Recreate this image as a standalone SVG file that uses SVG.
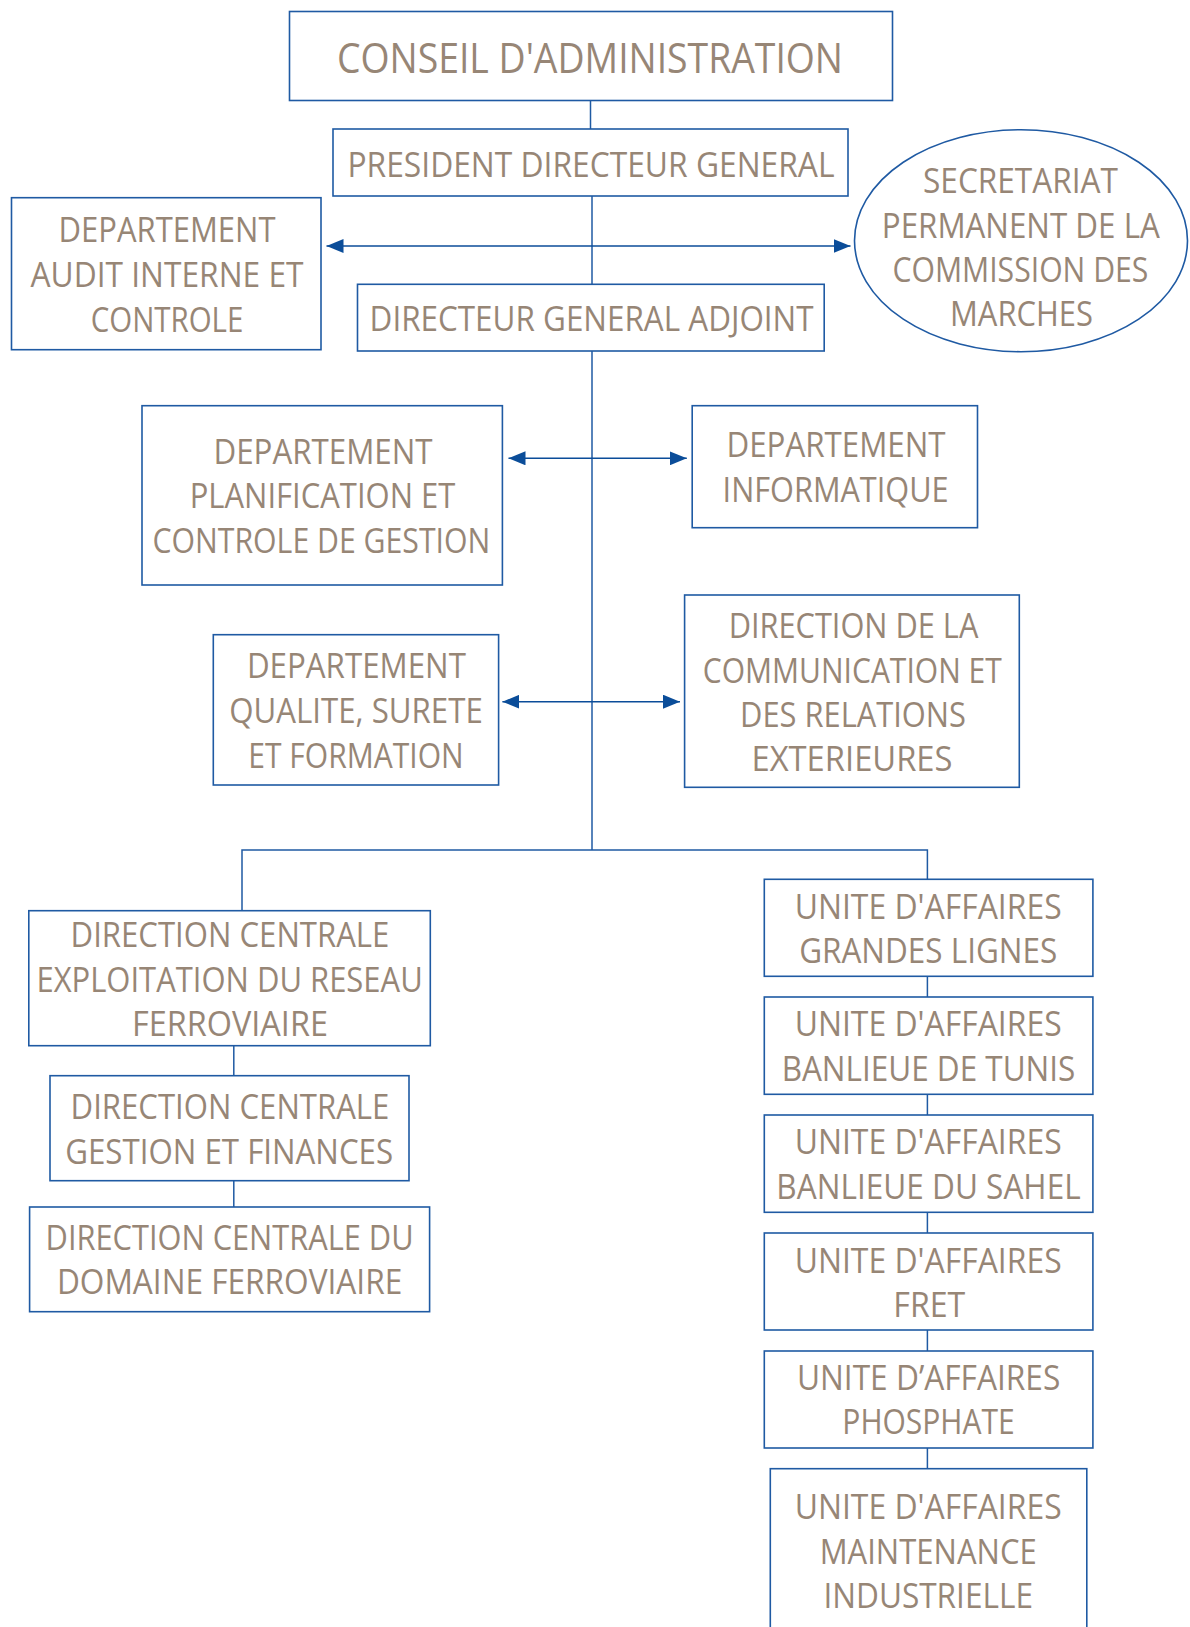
<svg xmlns="http://www.w3.org/2000/svg" width="1190" height="1627" viewBox="0 0 1190 1627">
<defs>
<style>
.box{fill:#ffffff;stroke:#1f5aa3;stroke-width:1.6}
.t{font-family:"Open Sans","Liberation Sans",sans-serif;font-size:34px;font-weight:500;fill:#978676;text-anchor:middle}
.big{font-size:42px}
.ln{stroke:#1f5aa3;stroke-width:1.5;fill:none}
.ar{stroke:#0b4d99;stroke-width:1.6;fill:none;marker-start:url(#ah);marker-end:url(#ah)}
</style>
<marker id="ah" markerUnits="userSpaceOnUse" markerWidth="18" markerHeight="14" viewBox="0 0 18 14" refX="17" refY="7" orient="auto-start-reverse">
<path d="M0,0 L17,7 L0,14 Z" fill="#0b4d99"/>
</marker>
</defs>
<rect width="1190" height="1627" fill="#ffffff"/>
<g id="connectors">
<line class="ln" x1="590.5" y1="100.6" x2="590.5" y2="129"/>
<line class="ln" x1="592" y1="196" x2="592" y2="284.3"/>
<line class="ar" x1="326.5" y1="246" x2="850.5" y2="246"/>
<line class="ln" x1="592" y1="351" x2="592" y2="850"/>
<line class="ar" x1="508.5" y1="458.3" x2="686.8" y2="458.3"/>
<line class="ar" x1="502.4" y1="701.7" x2="680" y2="701.7"/>
<polyline class="ln" points="242,910.7 242,850 927.4,850 927.4,879.3"/>
<line class="ln" x1="233.8" y1="1045.7" x2="233.8" y2="1075.7"/>
<line class="ln" x1="233.8" y1="1180.7" x2="233.8" y2="1207"/>
<line class="ln" x1="927.4" y1="976.3" x2="927.4" y2="997"/>
<line class="ln" x1="927.4" y1="1094.3" x2="927.4" y2="1115"/>
<line class="ln" x1="927.4" y1="1212.3" x2="927.4" y2="1233"/>
<line class="ln" x1="927.4" y1="1330" x2="927.4" y2="1351"/>
<line class="ln" x1="927.4" y1="1448" x2="927.4" y2="1468.7"/>
</g>
<g id="conseil">
<rect class="box" x="289.5" y="11.5" width="603" height="89"/>
<text class="t big" x="590" y="72.7" textLength="506" lengthAdjust="spacingAndGlyphs">CONSEIL D'ADMINISTRATION</text>
</g>
<g id="pdg">
<rect class="box" x="333" y="129" width="515" height="67"/>
<text class="t" x="591" y="176.7" textLength="487" lengthAdjust="spacingAndGlyphs">PRESIDENT DIRECTEUR GENERAL</text>
</g>
<g id="audit">
<rect class="box" x="11.5" y="197.7" width="309.5" height="152"/>
<text class="t" x="167" y="242.3" textLength="217" lengthAdjust="spacingAndGlyphs">DEPARTEMENT</text>
<text class="t" x="167" y="287.3" textLength="273" lengthAdjust="spacingAndGlyphs">AUDIT INTERNE ET</text>
<text class="t" x="167" y="332.3" textLength="152.6" lengthAdjust="spacingAndGlyphs">CONTROLE</text>
</g>
<g id="secretariat">
<ellipse class="box" cx="1021" cy="240.7" rx="166.5" ry="111"/>
<text class="t" x="1020.5" y="193.3" textLength="195" lengthAdjust="spacingAndGlyphs">SECRETARIAT</text>
<text class="t" x="1020.8" y="237.7" textLength="278" lengthAdjust="spacingAndGlyphs">PERMANENT DE LA</text>
<text class="t" x="1020.4" y="282.3" textLength="256" lengthAdjust="spacingAndGlyphs">COMMISSION DES</text>
<text class="t" x="1021.5" y="326" textLength="143" lengthAdjust="spacingAndGlyphs">MARCHES</text>
</g>
<g id="dga">
<rect class="box" x="357.5" y="284.3" width="466.7" height="66.7"/>
<text class="t" x="591.6" y="331.3" textLength="444" lengthAdjust="spacingAndGlyphs">DIRECTEUR GENERAL ADJOINT</text>
</g>
<g id="planification">
<rect class="box" x="142" y="405.7" width="360.4" height="179.3"/>
<text class="t" x="323" y="464.3" textLength="219" lengthAdjust="spacingAndGlyphs">DEPARTEMENT</text>
<text class="t" x="322.5" y="508.3" textLength="265.6" lengthAdjust="spacingAndGlyphs">PLANIFICATION ET</text>
<text class="t" x="321.4" y="553.3" textLength="337.7" lengthAdjust="spacingAndGlyphs">CONTROLE DE GESTION</text>
</g>
<g id="informatique">
<rect class="box" x="692.2" y="405.7" width="285.3" height="122"/>
<text class="t" x="836" y="457.3" textLength="219" lengthAdjust="spacingAndGlyphs">DEPARTEMENT</text>
<text class="t" x="835.6" y="501.5" textLength="226" lengthAdjust="spacingAndGlyphs">INFORMATIQUE</text>
</g>
<g id="qualite">
<rect class="box" x="213.3" y="634.7" width="285.3" height="150.3"/>
<text class="t" x="356.4" y="678.3" textLength="219" lengthAdjust="spacingAndGlyphs">DEPARTEMENT</text>
<text class="t" x="356" y="723.3" textLength="253.5" lengthAdjust="spacingAndGlyphs">QUALITE, SURETE</text>
<text class="t" x="356" y="768.3" textLength="215.5" lengthAdjust="spacingAndGlyphs">ET FORMATION</text>
</g>
<g id="communication">
<rect class="box" x="684.6" y="595" width="334.7" height="192.3"/>
<text class="t" x="853.5" y="637.7" textLength="249.7" lengthAdjust="spacingAndGlyphs">DIRECTION DE LA</text>
<text class="t" x="852.3" y="682.7" textLength="299" lengthAdjust="spacingAndGlyphs">COMMUNICATION ET</text>
<text class="t" x="853" y="726.7" textLength="226" lengthAdjust="spacingAndGlyphs">DES RELATIONS</text>
<text class="t" x="852" y="771" textLength="201" lengthAdjust="spacingAndGlyphs">EXTERIEURES</text>
</g>
<g id="dc-exploitation">
<rect class="box" x="28.8" y="910.7" width="401.5" height="135"/>
<text class="t" x="230" y="946.7" textLength="318.8" lengthAdjust="spacingAndGlyphs">DIRECTION CENTRALE</text>
<text class="t" x="229.6" y="991.7" textLength="386.3" lengthAdjust="spacingAndGlyphs">EXPLOITATION DU RESEAU</text>
<text class="t" x="230" y="1035.7" textLength="195.8" lengthAdjust="spacingAndGlyphs">FERROVIAIRE</text>
</g>
<g id="dc-gestion">
<rect class="box" x="50" y="1075.7" width="359" height="105"/>
<text class="t" x="230" y="1119.3" textLength="318.8" lengthAdjust="spacingAndGlyphs">DIRECTION CENTRALE</text>
<text class="t" x="229.2" y="1164" textLength="327.9" lengthAdjust="spacingAndGlyphs">GESTION ET FINANCES</text>
</g>
<g id="dc-domaine">
<rect class="box" x="29.6" y="1207" width="400" height="104.7"/>
<text class="t" x="229.6" y="1250" textLength="368" lengthAdjust="spacingAndGlyphs">DIRECTION CENTRALE DU</text>
<text class="t" x="229.6" y="1294" textLength="345.3" lengthAdjust="spacingAndGlyphs">DOMAINE FERROVIAIRE</text>
</g>
<g id="ua-grandes-lignes">
<rect class="box" x="764.3" y="879.3" width="328.6" height="97"/>
<text class="t" x="928.2" y="919.3" textLength="267" lengthAdjust="spacingAndGlyphs">UNITE D'AFFAIRES</text>
<text class="t" x="928.2" y="963.3" textLength="258" lengthAdjust="spacingAndGlyphs">GRANDES LIGNES</text>
</g>
<g id="ua-banlieue-tunis">
<rect class="box" x="764.3" y="997" width="328.6" height="97.3"/>
<text class="t" x="928.2" y="1036" textLength="267" lengthAdjust="spacingAndGlyphs">UNITE D'AFFAIRES</text>
<text class="t" x="928.5" y="1080.7" textLength="293.7" lengthAdjust="spacingAndGlyphs">BANLIEUE DE TUNIS</text>
</g>
<g id="ua-banlieue-sahel">
<rect class="box" x="764.3" y="1115" width="328.6" height="97.3"/>
<text class="t" x="928.2" y="1154.3" textLength="267" lengthAdjust="spacingAndGlyphs">UNITE D'AFFAIRES</text>
<text class="t" x="928.5" y="1199.3" textLength="304.3" lengthAdjust="spacingAndGlyphs">BANLIEUE DU SAHEL</text>
</g>
<g id="ua-fret">
<rect class="box" x="764.3" y="1233" width="328.6" height="97"/>
<text class="t" x="928.2" y="1272.5" textLength="267" lengthAdjust="spacingAndGlyphs">UNITE D'AFFAIRES</text>
<text class="t" x="929.3" y="1316.7" textLength="72" lengthAdjust="spacingAndGlyphs">FRET</text>
</g>
<g id="ua-phosphate">
<rect class="box" x="764.3" y="1351" width="328.6" height="97"/>
<text class="t" x="928.6" y="1390" textLength="263.4" lengthAdjust="spacingAndGlyphs">UNITE D’AFFAIRES</text>
<text class="t" x="928.5" y="1434.3" textLength="172.3" lengthAdjust="spacingAndGlyphs">PHOSPHATE</text>
</g>
<g id="ua-maintenance">
<rect class="box" x="770.3" y="1468.7" width="316.5" height="175"/>
<text class="t" x="928.2" y="1519.3" textLength="267" lengthAdjust="spacingAndGlyphs">UNITE D'AFFAIRES</text>
<text class="t" x="928.2" y="1564.3" textLength="217" lengthAdjust="spacingAndGlyphs">MAINTENANCE</text>
<text class="t" x="928.2" y="1608.3" textLength="209.5" lengthAdjust="spacingAndGlyphs">INDUSTRIELLE</text>
</g>
</svg>
